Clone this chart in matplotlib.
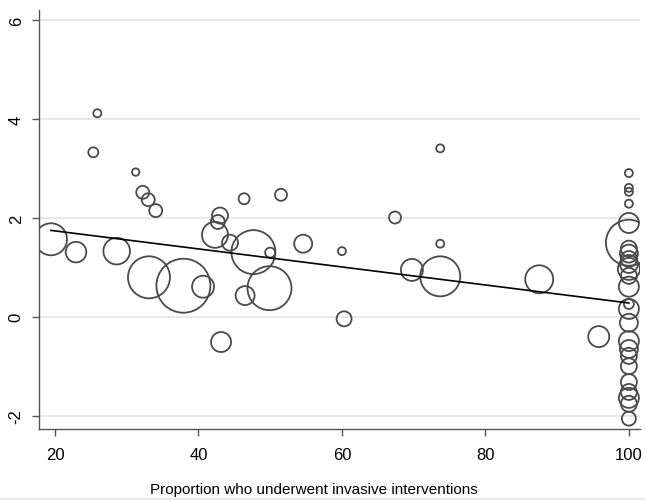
import matplotlib
matplotlib.use("Agg")
import matplotlib.pyplot as plt
import numpy as np

plt.rcParams['font.family'] = ['Liberation Sans', 'DejaVu Sans']

# Study-level data: proportion invasive (x), effect (y), bubble radius in px (weight)
prop = [19.44, 22.93, 25.9, 25.34, 28.6, 31.25, 32.23, 33.0, 34.04, 33.1, 37.9, 40.64,
        42.3, 42.7, 43.0, 44.4, 46.36, 46.5, 47.66, 43.15, 49.99, 49.9, 51.5, 54.6,
        60.0, 60.3, 67.4, 69.75, 73.7, 73.7, 73.7, 87.5, 95.8,
        100, 100, 100, 100, 100, 100, 100, 100, 100, 100, 100, 100, 100, 100,
        100, 100, 100, 100, 100, 100, 100, 100, 100, 100, 100]
effect = [1.57, 1.31, 4.12, 3.33, 1.33, 2.93, 2.52, 2.37, 2.15, 0.80, 0.63, 0.61,
          1.66, 1.92, 2.05, 1.50, 2.39, 0.43, 1.31, -0.51, 1.30, 0.58, 2.47, 1.48,
          1.33, -0.04, 2.01, 0.95, 3.41, 1.48, 0.82, 0.76, -0.40,
          2.91, 2.61, 2.53, 2.29, 1.90, 1.50, 1.38, 1.28, 1.17, 1.07, 0.97, 0.83,
          0.61, 0.26, 0.16, -0.12, -0.49, -0.65, -0.79, -1.00, -1.32, -1.52, -1.64,
          -1.76, -2.06]
radius = [16, 10.3, 4, 5, 13.3, 3.7, 6.5, 6.5, 6.5, 21, 27, 11,
          13, 7, 8, 8, 5.5, 9.5, 22, 10, 5, 22, 6, 9,
          4, 7.5, 6, 11, 4, 4, 20, 14, 10.5,
          4, 4, 4, 4, 10, 23, 8, 9, 8, 9, 11, 8,
          10, 5, 10, 9, 10, 9, 8, 8, 8, 8, 10,
          8, 7]

# Meta-regression line
reg_intercept = 2.104
reg_slope = -0.01824

xticks = [20, 40, 60, 80, 100]
yticks = [-2, 0, 2, 4, 6]
xlabel = "Proportion who underwent invasive interventions"

W, H, DPI = 646, 502, 100
fig = plt.figure(figsize=(W / DPI, H / DPI), dpi=DPI)
ax = fig.add_axes([39 / W, 1 - 430 / H, (640 - 39) / W, (430 - 11) / H])

sizes = [(1.44 * r) ** 2 for r in radius]
ax.scatter(prop, effect, s=sizes, facecolors='none', edgecolors='#4a4a4a',
           linewidths=1.3, zorder=3)

xl = np.array([min(prop), max(prop)])
ax.plot(xl, reg_intercept + reg_slope * xl, color='black', linewidth=1.2, zorder=4)

ax.set_xlim(17.77, 101.55)
ax.set_ylim(-2.27, 6.21)
ax.set_xticks(xticks)
ax.set_yticks(yticks)
ax.set_xticklabels([str(t) for t in xticks], fontsize=12)
ax.set_yticklabels([str(t) for t in yticks], fontsize=12, rotation=90, va='center')
ax.grid(axis='y', color='#e6e6e6', linewidth=1.3, zorder=0)
ax.set_axisbelow(True)
for s in ['top', 'right']:
    ax.spines[s].set_visible(False)
for s in ['left', 'bottom']:
    ax.spines[s].set_color('#555555')
    ax.spines[s].set_linewidth(1.0)
ax.tick_params(axis='both', colors='#555555', labelcolor='black', length=5, width=1.0)
ax.tick_params(axis='x', pad=8)
ax.tick_params(axis='y', pad=6)
ax.set_xlabel(xlabel, fontsize=11.0)
ax.xaxis.set_label_coords(0.4576, -0.127)

fig.add_artist(plt.Line2D([0, 1], [0.004, 0.004], color='#ececec', linewidth=1.5,
                          transform=fig.transFigure))

fig.savefig("out.png", dpi=DPI)
